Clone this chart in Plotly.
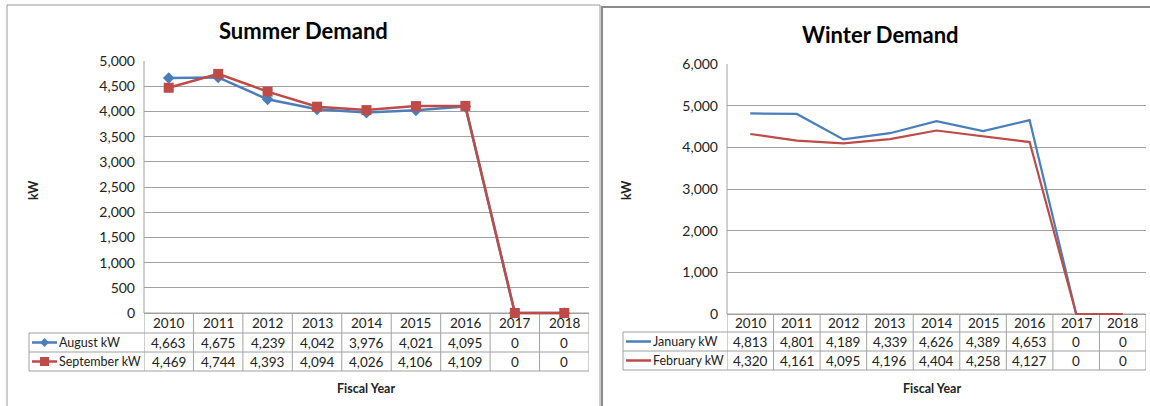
import plotly.graph_objects as go

# ---------------- data ----------------
years = [str(y) for y in range(2010, 2019)]
august_kw = [4663, 4675, 4239, 4042, 3976, 4021, 4095, 0, 0]
september_kw = [4469, 4744, 4393, 4094, 4026, 4106, 4109, 0, 0]
january_kw = [4813, 4801, 4189, 4339, 4626, 4389, 4653, 0, 0]
february_kw = [4320, 4161, 4095, 4196, 4404, 4258, 4127, 0, 0]

summer_title = "Summer Demand"
winter_title = "Winter Demand"
x_title = "Fiscal Year"
y_title = "kW"

# ---------------- style ----------------
W, H = 1150, 406
FONT = "Lato"
BLUE = "#4A7EBB"
RED = "#BE4B48"
GRID = "#A0A0A0"
TXT = "#222222"
FS = 13.5
FS_LEG = 12.5
PAD = 4  # px of plot area kept below the zero line so zero-level lines are not clipped


def px(x):
    return x / W


def py(y):
    return 1 - y / H


fig = go.Figure()

panels = [
    dict(xa="x", ya="y", x0=144, x1=589, ytop=61, ybot=313, rows=[313, 333, 352, 371],
         lx0=29, ymax=5000, dtick=500, title=summer_title, tx=303, ty=31,
         fx=366, kx=33, markers=True,
         series=[("August kW", august_kw, BLUE, "diamond"),
                 ("September kW", september_kw, RED, "square")]),
    dict(xa="x2", ya="y2", x0=727, x1=1146, ytop=64, ybot=314, rows=[314, 332, 351, 370],
         lx0=623, ymax=6000, dtick=1000, title=winter_title, tx=880, ty=34,
         fx=932, kx=626, markers=False,
         series=[("January kW", january_kw, BLUE, None),
                 ("February kW", february_kw, RED, None)]),
]

shapes = []
annotations = []

# panel frames
shapes.append(dict(type="rect", xref="paper", yref="paper", x0=px(7), x1=px(600), y0=py(420), y1=py(5),
                   line=dict(color="#9A9A9A", width=1), layer="below"))
shapes.append(dict(type="rect", xref="paper", yref="paper", x0=px(602), x1=px(1160), y0=py(420), y1=py(7),
                   line=dict(color="#8C8C8C", width=2), layer="below"))

for i, p in enumerate(panels):
    sfx = "" if i == 0 else str(i + 1)
    for name, vals, color, sym in p["series"]:
        if p["markers"]:
            fig.add_trace(go.Scatter(
                x=years, y=vals, name=name, mode="lines+markers",
                line=dict(color=color, width=2.5),
                marker=dict(symbol=sym, size=9 if sym == "diamond" else 10, color=color),
                xaxis=p["xa"], yaxis=p["ya"], showlegend=False, cliponaxis=False))
        else:
            fig.add_trace(go.Scatter(
                x=years, y=vals, name=name, mode="lines",
                line=dict(color=color, width=2.2),
                xaxis=p["xa"], yaxis=p["ya"], showlegend=False, cliponaxis=False))

    span = p["ybot"] - p["ytop"]
    fig.layout["xaxis" + sfx] = dict(
        domain=[px(p["x0"]), px(p["x1"])], type="category", range=[-0.5, len(years) - 0.5],
        showticklabels=False, showgrid=False, zeroline=False, showline=False,
        anchor=p["ya"], fixedrange=True, automargin=False)
    fig.layout["yaxis" + sfx] = dict(
        domain=[py(p["ybot"] + PAD), py(p["ytop"])],
        range=[-PAD * p["ymax"] / span, p["ymax"]], tick0=0, dtick=p["dtick"],
        tickformat=",", showgrid=True, gridcolor=GRID, gridwidth=1,
        showline=False, zeroline=False,
        ticks="", ticklabelstandoff=8, automargin=False,
        tickfont=dict(family=FONT, size=14, color=TXT), anchor=p["xa"], fixedrange=True)

    rows = p["rows"]
    # value axis line
    shapes.append(dict(type="line", xref="paper", yref="paper", x0=px(p["x0"]), x1=px(p["x0"]),
                       y0=py(rows[0]), y1=py(p["ytop"]), line=dict(color=GRID, width=1), layer="below"))
    # table grid (drawn below the traces so the zero-level lines stay visible)
    shapes.append(dict(type="line", xref="paper", yref="paper", x0=px(p["x0"]), x1=px(p["x1"]),
                       y0=py(rows[0]), y1=py(rows[0]), line=dict(color=GRID, width=1), layer="below"))
    for r in rows[1:]:
        shapes.append(dict(type="line", xref="paper", yref="paper", x0=px(p["lx0"]), x1=px(p["x1"]),
                           y0=py(r), y1=py(r), line=dict(color=GRID, width=1), layer="below"))
    shapes.append(dict(type="line", xref="paper", yref="paper", x0=px(p["lx0"]), x1=px(p["lx0"]),
                       y0=py(rows[1]), y1=py(rows[-1]), line=dict(color=GRID, width=1), layer="below"))
    for k in range(len(years) + 1):
        shapes.append(dict(type="line", xref=p["xa"], yref="paper", x0=k - 0.5, x1=k - 0.5,
                           y0=py(rows[0]), y1=py(rows[-1]), line=dict(color=GRID, width=1),
                           layer="below"))

    # header years and values (category axis -> positions are category indices)
    for j, yr in enumerate(years):
        annotations.append(dict(x=j, xref=p["xa"], y=py((rows[0] + rows[1]) / 2), yref="paper",
                                text=yr, showarrow=False, xanchor="center", yanchor="middle",
                                font=dict(family=FONT, size=FS, color=TXT)))
    for s_idx, (name, vals, color, sym) in enumerate(p["series"]):
        yc = (rows[s_idx + 1] + rows[s_idx + 2]) / 2
        for j, v in enumerate(vals):
            annotations.append(dict(x=j, xref=p["xa"], y=py(yc), yref="paper",
                                    text=f"{v:,}", showarrow=False, xanchor="center", yanchor="middle",
                                    font=dict(family=FONT, size=FS, color=TXT)))
        # legend key in the table's first column
        lx0 = p["lx0"]
        kx0, kx1 = lx0 + 3, lx0 + 28
        shapes.append(dict(type="line", xref="paper", yref="paper", x0=px(kx0), x1=px(kx1),
                           y0=py(yc), y1=py(yc), line=dict(color=color, width=2.5)))
        cx = (kx0 + kx1) / 2
        if sym == "diamond":
            d = 4.5
            path = (f"M {px(cx)} {py(yc - d)} L {px(cx + d)} {py(yc)} "
                    f"L {px(cx)} {py(yc + d)} L {px(cx - d)} {py(yc)} Z")
            shapes.append(dict(type="path", xref="paper", yref="paper", path=path,
                               fillcolor=color, line=dict(color=color, width=0)))
        elif sym == "square":
            d = 4.5
            shapes.append(dict(type="rect", xref="paper", yref="paper", x0=px(cx - d), x1=px(cx + d),
                               y0=py(yc + d), y1=py(yc - d), fillcolor=color,
                               line=dict(color=color, width=0)))
        annotations.append(dict(x=px(kx1), xref="paper", y=py(yc), yref="paper",
                                text=name, showarrow=False, xanchor="left", yanchor="middle",
                                font=dict(family=FONT, size=FS_LEG, color=TXT)))

    # titles
    annotations.append(dict(x=px(p["tx"]), xref="paper", y=py(p["ty"]), yref="paper",
                            text=f"<b>{p['title']}</b>", showarrow=False, xanchor="center",
                            yanchor="middle", font=dict(family=FONT, size=22, color="#000000")))
    annotations.append(dict(x=px(p["fx"]), xref="paper", y=py(388), yref="paper",
                            text=f"<b>{x_title}</b>", showarrow=False, xanchor="center",
                            yanchor="middle", font=dict(family=FONT, size=12.5, color=TXT)))
    annotations.append(dict(x=px(p["kx"]), xref="paper", y=py(190), yref="paper",
                            text=f"<b>{y_title}</b>", showarrow=False, xanchor="center",
                            yanchor="middle", textangle=-90,
                            font=dict(family=FONT, size=12.5, color=TXT)))

fig.update_layout(
    width=W, height=H, autosize=False,
    margin=dict(l=0, r=0, t=0, b=0, pad=0, autoexpand=False),
    paper_bgcolor="white", plot_bgcolor="rgba(0,0,0,0)",
    shapes=shapes, annotations=annotations,
    font=dict(family=FONT, color=TXT),
    showlegend=False,
)

fig.write_html(
    "out.html",
    config={"displayModeBar": False},
    post_script="document.body.style.margin='0';document.body.style.overflow='hidden';",
)
